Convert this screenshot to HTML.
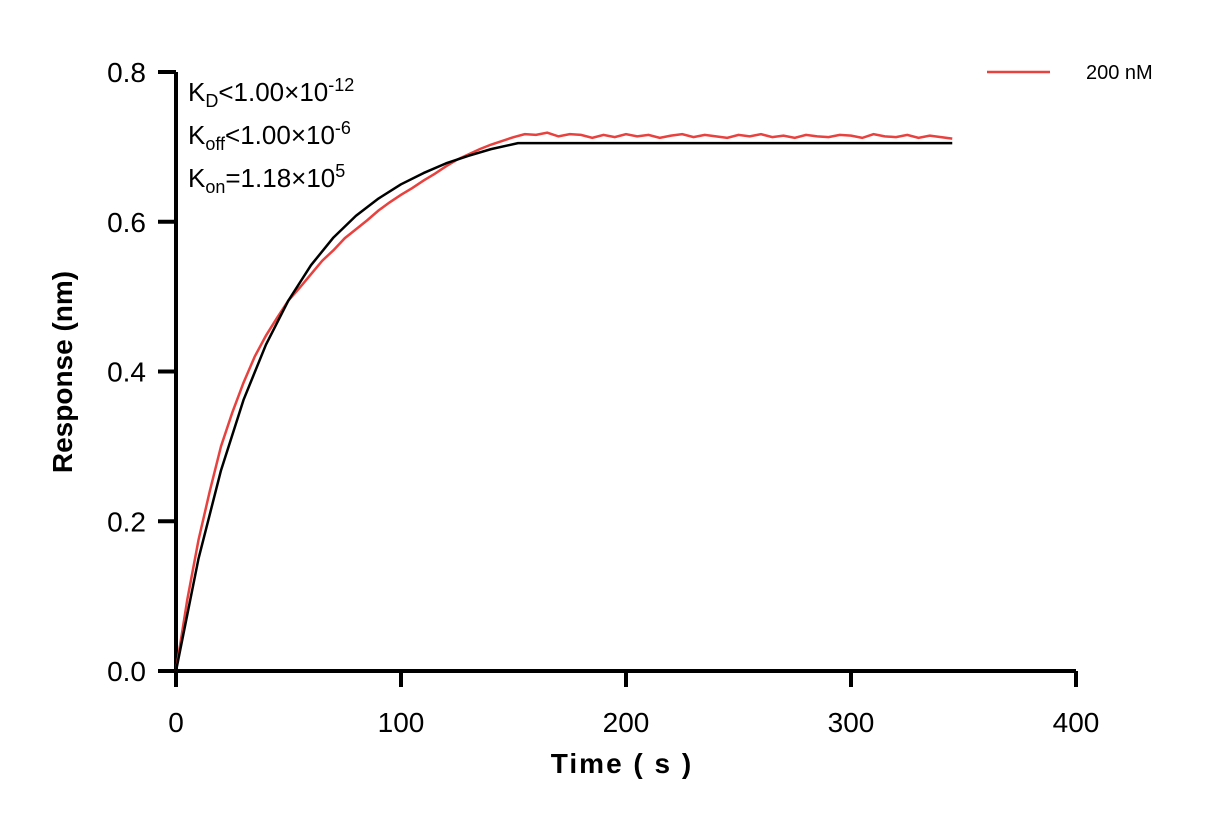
<!DOCTYPE html>
<html><head><meta charset="utf-8"><style>
body{margin:0;background:#fff;}
svg text{font-family:"Liberation Sans",Arial,sans-serif;}
.tick{font-size:28px;}
.ann{font-size:26px;}
.sub{font-size:18px;}
</style></head><body>
<svg id="chart" width="1212" height="825" xmlns="http://www.w3.org/2000/svg">
<g id="axes"></g>
<g id="plot"></g>
<g class="ann" fill="#000">
<text x="188" y="101" style="font-size:26px">K<tspan style="font-size:18px" dy="6">D</tspan><tspan dy="-6">&lt;1.00×10</tspan><tspan style="font-size:18px" dy="-10">-12</tspan></text>
<text x="188" y="144" style="font-size:26px">K<tspan style="font-size:18px" dy="6">off</tspan><tspan dy="-6">&lt;1.00×10</tspan><tspan style="font-size:18px" dy="-10">-6</tspan></text>
<text x="188" y="187" style="font-size:26px">K<tspan style="font-size:18px" dy="6">on</tspan><tspan dy="-6">=1.18×10</tspan><tspan style="font-size:18px" dy="-10">5</tspan></text>
</g>
<g>
<line x1="987" y1="72" x2="1050" y2="72" stroke="#e8413e" stroke-width="2.5"/>
<text x="1086" y="79" style="font-size:20px">200 nM</text>
</g>
<text x="0" y="0" transform="translate(72,372) rotate(-90)" text-anchor="middle" style="font-size:28px;font-weight:bold">Response (nm)</text>
<text x="622" y="773" text-anchor="middle" style="font-size:28px;font-weight:bold" letter-spacing="2">Time ( s )</text>
</svg>
<script>
const xTicks=[0,100,200,300,400];
const yTicks=[0.0,0.2,0.4,0.6,0.8];
const yTickLabels=["0.0","0.2","0.4","0.6","0.8"];
const fitTimes=[0,10,20,30,40,50,60,70,80,90,100,110,120,130,140,152,345];
const fitValues=[0,0.150,0.268,0.362,0.436,0.495,0.542,0.579,0.608,0.631,0.650,0.665,0.678,0.688,0.697,0.705,0.705];
const dataTimes=[0,5,10,15,20,25,30,35,40,45,50,55,60,65,70,75,80,85,90,95,100,105,110,115,120,125,130,135,140,145,150,155,160,165,170,175,180,185,190,195,200,205,210,215,220,225,230,235,240,245,250,255,260,265,270,275,280,285,290,295,300,305,310,315,320,325,330,335,340,345];
const dataValues=[0,0.095,0.175,0.24,0.3,0.345,0.385,0.42,0.448,0.472,0.495,0.512,0.53,0.548,0.562,0.578,0.59,0.602,0.615,0.626,0.636,0.645,0.655,0.664,0.674,0.683,0.69,0.697,0.703,0.708,0.713,0.717,0.716,0.719,0.714,0.717,0.716,0.712,0.716,0.713,0.717,0.714,0.716,0.712,0.715,0.717,0.713,0.716,0.714,0.712,0.716,0.714,0.717,0.713,0.715,0.712,0.716,0.714,0.713,0.716,0.715,0.712,0.717,0.714,0.713,0.716,0.712,0.715,0.713,0.711];
const NS="http://www.w3.org/2000/svg";
const X0=176,X1=1076,Y0=671,Y1=72;
function xs(t){return X0+(t-0)/(400-0)*(X1-X0);}
function ys(v){return Y0-(v-0)/(0.8-0)*(Y0-Y1);}
function mk(tag,attrs,parent){const e=document.createElementNS(NS,tag);for(const k in attrs)e.setAttribute(k,attrs[k]);parent.appendChild(e);return e;}
const axes=document.getElementById('axes'),plot=document.getElementById('plot');
let l=mk('line',{x1:X0,y1:Y0,x2:X1,y2:Y0,stroke:'#000','stroke-width':4},axes);


l=mk('line',{x1:X0,y1:Y0+2,x2:X0,y2:Y1,stroke:'#000','stroke-width':4},axes);


xTicks.forEach(t=>{const x=xs(t);
 const tk=mk('line',{x1:x,y1:Y0,x2:x,y2:Y0+16,stroke:'#000','stroke-width':4},axes);
 
 
 const tx=mk('text',{x:x,y:Y0+61,'text-anchor':'middle',style:'font-size:28px'},axes);tx.textContent=t;
 
 });
yTicks.forEach((v,i)=>{const y=ys(v);
 const tk=mk('line',{x1:X0-18,y1:y,x2:X0,y2:y,stroke:'#000','stroke-width':4},axes);
 
 
 const tx=mk('text',{x:X0-30,y:y+10,'text-anchor':'end',style:'font-size:28px'},axes);tx.textContent=yTickLabels[i];
 
 });
const dp=mk('polyline',{points:dataTimes.map((t,i)=>xs(t)+','+ys(dataValues[i])).join(' '),fill:'none',stroke:'#e8413e','stroke-width':2.5},plot);


const fp=mk('polyline',{points:fitTimes.map((t,i)=>xs(t)+','+ys(fitValues[i])).join(' '),fill:'none',stroke:'#000','stroke-width':2.5,'stroke-linejoin':'round'},plot);


</script>
</body></html>
